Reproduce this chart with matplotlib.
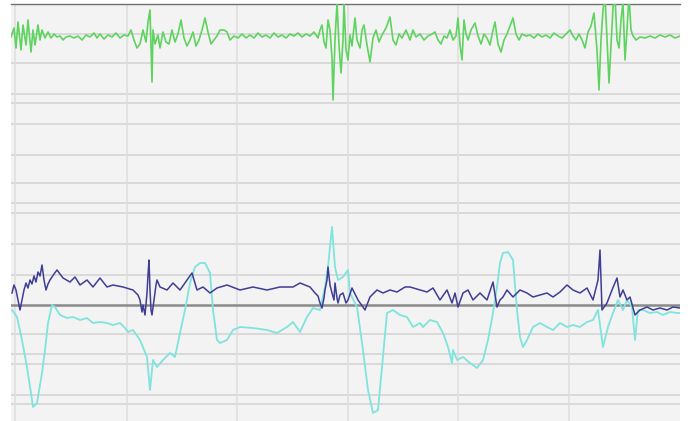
import matplotlib
matplotlib.use("Agg")
import matplotlib.pyplot as plt
import numpy as np

# ---- data (time in samples, amplitude in chart units) ----
# Green channel: deviation from its own baseline (positive = up)
green_t = [11,14,16,18,21,23,26,28,31,33,35,38,40,42,45,48,51,54,57,60,63,66,70,74,78,82,86,90,94,97,100,104,108,112,116,120,124,128,131,134,137,140,143,146,148,150,151,152,153,155,158,160,163,166,169,172,175,178,181,184,187,190,193,196,199,202,205,208,211,214,217,220,224,227,230,234,238,242,246,250,254,258,262,266,270,274,278,282,286,290,294,298,302,306,310,314,318,320,322,324,326,328,330,332,333,335,337,339,341,343,344,346,348,350,352,355,357,360,362,364,367,370,373,376,379,382,386,390,393,396,399,402,406,410,413,416,420,424,428,432,435,438,441,444,447,450,453,456,458,460,462,464,466,468,471,475,478,481,484,487,490,493,495,498,501,504,507,510,513,516,519,522,526,530,534,538,542,546,550,554,558,562,566,570,573,576,579,582,585,588,591,594,597,599,601,603,605,607,609,611,613,615,617,619,621,623,625,627,629,631,633,636,640,645,650,655,660,665,670,675,680]
green_px = [37,28,48,22,50,25,45,20,52,30,45,25,40,30,38,32,38,34,37,36,40,37,36,38,36,40,35,37,33,38,34,39,35,37,33,38,35,36,30,40,48,44,30,42,22,10,48,82,30,44,35,48,32,42,44,30,42,34,20,38,46,40,32,46,40,30,18,32,44,40,36,30,30,32,40,36,38,34,38,35,38,33,37,35,38,33,37,35,38,34,36,33,37,34,36,32,38,30,25,42,48,20,30,58,100,40,3,45,73,40,3,50,60,35,46,18,40,48,30,25,45,62,38,30,42,35,28,17,40,45,34,38,30,40,30,37,34,40,36,34,32,40,44,36,38,30,40,36,18,45,60,20,34,40,30,23,36,44,34,38,45,30,22,44,52,40,34,26,18,34,40,34,36,35,38,34,37,35,38,33,36,38,34,30,36,40,34,40,48,32,26,13,50,90,40,10,-5,40,83,45,8,-5,40,48,20,3,60,30,-5,30,36,40,37,38,36,38,35,37,35,38,36]
green_base = 37
green_vals = [green_base - p for p in green_px]
green_offset = 268

# Purple channel (relative to zero line)
purple_t = [12,14,16,18,20,22,24,26,28,30,32,34,36,38,40,42,44,46,48,50,54,57,63,70,75,80,87,93,100,107,113,123,133,138,140,142,143,145,147,148,149,150,151,152,154,156,157,160,167,173,180,187,192,197,203,210,217,227,240,253,267,280,293,300,310,315,318,320,322,324,325,327,328,330,332,334,335,337,338,340,343,346,348,352,358,365,370,377,383,390,397,405,410,420,427,433,440,447,452,455,458,463,468,473,480,487,493,497,500,503,507,513,520,527,533,540,547,553,560,567,573,580,587,593,598,600,602,607,612,617,620,623,627,630,635,640,647,653,660,667,673,680]
purple_px = [293,285,290,300,310,300,290,283,288,280,284,276,282,272,276,265,280,290,284,280,274,270,278,282,277,285,280,287,278,287,285,287,290,295,300,312,305,315,293,275,260,290,310,315,300,285,280,287,290,283,290,280,273,290,287,293,288,285,290,287,290,287,287,283,287,293,296,303,308,298,290,280,267,285,293,300,283,298,303,295,293,303,300,288,300,310,297,290,293,290,292,287,287,290,292,288,300,290,303,293,307,293,290,300,293,300,282,307,300,297,290,297,290,293,297,295,293,297,292,285,290,293,288,300,280,250,310,303,290,278,297,290,300,297,315,310,307,310,308,310,307,308]
purple_vals = [305 - p for p in purple_px]

# Cyan channel (relative to zero line)
cyan_t = [12,17,22,27,32,33,37,42,45,48,52,55,60,67,73,80,87,93,100,107,113,120,125,128,133,140,147,150,153,157,163,170,175,180,185,190,195,200,205,210,213,217,220,227,233,240,253,267,277,287,293,300,307,313,320,325,328,332,335,338,343,348,350,357,363,368,373,378,382,387,393,400,407,413,420,423,430,437,443,448,452,453,457,463,470,477,483,488,493,497,500,503,508,513,517,520,523,527,533,540,547,553,560,567,573,580,587,593,598,603,608,613,618,623,627,632,635,638,643,650,657,663,670,677,680]
cyan_px = [310,317,340,367,400,407,403,373,350,323,305,307,315,318,317,320,318,323,322,323,325,323,328,332,330,340,357,390,360,367,360,353,357,333,310,283,267,263,263,273,310,340,343,340,330,327,328,330,333,327,322,332,317,308,310,287,267,227,267,280,277,270,293,307,350,390,413,410,367,313,310,315,317,327,323,327,320,322,333,347,363,350,360,357,363,368,360,340,313,287,263,253,252,260,310,337,347,340,327,323,327,330,323,327,325,327,322,320,310,347,327,313,300,310,300,307,340,310,310,313,312,315,312,313,313]
cyan_vals = [305 - p for p in cyan_px]

# grid positions (chart units)
hgrid_px = [34, 63, 94, 103, 124, 155, 183, 203, 213, 244, 275, 334, 354, 364, 395, 404]
vgrid_t = [15, 127, 237, 348, 458, 569]

# ---- figure ----
W, H = 690, 421
fig = plt.figure(figsize=(W/100, H/100), dpi=100)
fig.patch.set_facecolor("white")
ax = fig.add_axes([11/W, 0, (680-11)/W, (421-4)/H])
ax.set_facecolor("#f3f3f3")
ax.set_xlim(11, 680)
ax.set_ylim(305-421, 305-4)

for p in hgrid_px:
    ax.axhline(305 - p, color="#d9d9d9", lw=1.4, zorder=1)
for t in vgrid_t:
    ax.axvline(t, color="#dedede", lw=1.1, zorder=1)

ax.axhline(0, color="#8a8a8a", lw=1.8, zorder=1.5)

ax.plot(green_t, np.array(green_vals) + green_offset, color="#5fd35f", lw=1.2, zorder=3)
ax.plot(cyan_t, cyan_vals, color="#7fe3de", lw=1.3, zorder=2)
ax.plot(purple_t, purple_vals, color="#3f3d94", lw=1.1, zorder=4)

for s in ["left", "right", "bottom"]:
    ax.spines[s].set_visible(False)
ax.spines["top"].set_color("#707070")
ax.spines["top"].set_linewidth(1.0)
ax.set_xticks([])
ax.set_yticks([])

fig.savefig("out.png", dpi=100, facecolor="white")
